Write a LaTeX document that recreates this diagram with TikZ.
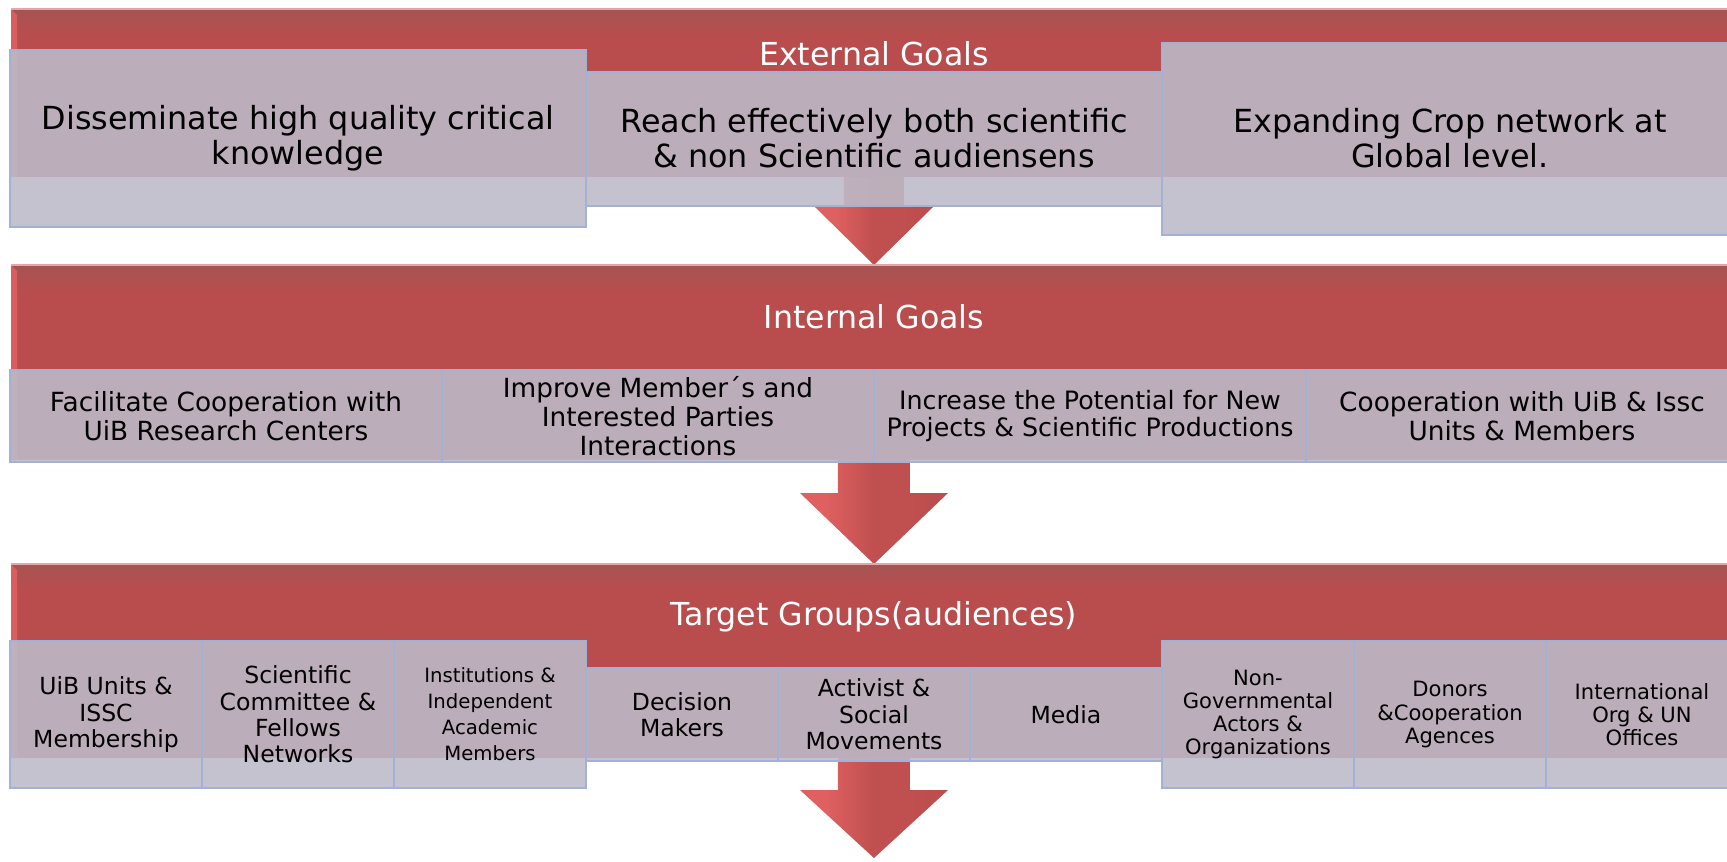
\documentclass[tikz,border=0pt]{standalone}
\usepackage{fontspec}
\setmainfont{DejaVu Sans}
\usetikzlibrary{positioning,calc}
\definecolor{gbred}{HTML}{B94D4D}
\definecolor{gbredtop}{HTML}{A65454}
\definecolor{gbredlight}{HTML}{DA5E5E}
\definecolor{gbredrim}{HTML}{E4A6A6}
\definecolor{gbbox}{HTML}{BCBBC8}
\definecolor{gbline}{HTML}{A3B2D4}
\definecolor{gbarrowlight}{HTML}{DE6060}
\definecolor{gbarrowmid}{HTML}{C04F4F}
\definecolor{gbarrowdark}{HTML}{B04B4B}
\pgfdeclarehorizontalshading{gbflowshade}{100bp}{color(0bp)=(gbarrowlight); color(34bp)=(gbarrowlight); color(50bp)=(gbarrowmid); color(62bp)=(gbarrowmid); color(100bp)=(gbarrowdark)}
\pgfdeclarelayer{arrows}
\pgfsetlayers{arrows,main}

\begin{document}
\begin{tikzpicture}[x=0.1mm,y=-0.1mm]
        \tikzset{band/.style={fill=gbred,anchor=north west,inner sep=0pt,outer sep=0pt,minimum width=180mm},
          bandtitle/.style={text=white,inner sep=0pt,font=\fontsize{9}{10}\selectfont},
          goal/.style={draw=gbline,line width=0.2mm,fill=gbbox,fill opacity=0.89,text opacity=1,align=center,inner sep=0pt,outer sep=0pt},
          extgoal/.style={goal,minimum width=57.6mm,font=\fontsize{9.05}{9.96}\selectfont},
          intgoal/.style={goal,minimum width=43.2mm,minimum height=9.2mm,font=\fontsize{7.5}{8.25}\selectfont},
          target/.style={goal,minimum width=19.2mm,font=\fontsize{6.7}{7.5}\selectfont},
          tgtall/.style={minimum height=14.7mm},
          tgshort/.style={minimum height=9.3mm},
          tgsmall/.style={font=\fontsize{6}{6.6}\selectfont},
          flow/.style={shading=gbflowshade}}
        \path[use as bounding box,clip] (0,0) rectangle (1727,861);
        % red bands
        \node[band,minimum height=16.8mm] (extBand) at (11,9) {};
        \node[band,minimum height=19.5mm] (intBand) at (11,265) {};
        \node[band,minimum height=19.4mm] (tgtBand) at (11,564) {};
        \foreach \b in {extBand,intBand,tgtBand}{
          \shade[top color=gbredtop,bottom color=gbred] (\b.north west) rectangle ($(\b.north east)+(0,26)$);
          \fill[gbredlight] (\b.north west) -- ++(6,6) -- ($(\b.south west)+(6,0)$) -- (\b.south west) -- cycle;
          \draw[gbredrim,line width=0.15mm] (\b.north west) -- (\b.north east);
        }
        \node[bandtitle] (extTitle) at (874,54) {External Goals};
        \node[bandtitle] (intTitle) at (874,317) {Internal Goals};
        \node[bandtitle] (tgtTitle) at (874,617) {Target Groups(audiences)};
        % external goals
        \node[extgoal,minimum height=17.7mm,anchor=west] (dissem) at (10,138.5) {Disseminate high quality critical\\knowledge};
        \node[extgoal,minimum height=13.4mm,right=0pt of dissem] (reach) {Reach effectively both scientific\\\& non Scientific audiensens};
        \node[extgoal,minimum height=19.2mm,right=0pt of reach] (expand) {Expanding Crop network at\\Global level.};
        % internal goals
        \node[intgoal,anchor=west] (facil) at (10,416) {Facilitate Cooperation with\\UiB Research Centers};
        \node[intgoal,right=0pt of facil] (improve) {Improve Member´s and\\Interested Parties\\Interactions};
        \node[intgoal,right=0pt of improve,font=\fontsize{7.2}{7.9}\selectfont] (increase) {Increase the Potential for New\\Projects \& Scientific Productions};
        \node[intgoal,right=0pt of increase] (coop) {Cooperation with UiB \& Issc\\Units \& Members};
        % target groups
        \node[target,tgtall,anchor=west] (uib) at (10,714.5) {UiB Units \&\\ISSC\\Membership};
        \node[target,tgtall,right=0pt of uib] (sci) {Scientific\\Committee \&\\Fellows\\Networks};
        \node[target,tgtall,right=0pt of sci,font=\fontsize{5.6}{7.4}\selectfont] (inst) {Institutions \&\\Independent\\Academic\\Members};
        \node[target,tgshort,right=0pt of inst] (decision) {Decision\\Makers};
        \node[target,tgshort,right=0pt of decision] (activist) {Activist \&\\Social\\Movements};
        \node[target,tgshort,right=0pt of activist] (media) {Media};
        \node[target,tgtall,tgsmall,right=0pt of media] (ngo) {Non-\\Governmental\\Actors \&\\Organizations};
        \node[target,tgtall,tgsmall,right=0pt of ngo] (donors) {Donors\\\&Cooperation\\Agences};
        \node[target,tgtall,tgsmall,right=0pt of donors] (intl) {International\\Org \& UN\\Offices};
        % block arrows behind the boxes
        \begin{pgfonlayer}{arrows}
          \coordinate (tipA) at (reach.south |- intBand.north);
          \coordinate (tipB) at (improve.south east |- tgtBand.north);
          \coordinate (tipC) at ($(activist.south)+(0,97)$);
          \shade[flow] ($(reach.center)+(-30,0)$) |- ($(tipA)+(-59,-58)$) -- (tipA) -- ($(tipA)+(59,-58)$) -| ($(reach.center)+(30,0)$) -- cycle;
          \shade[flow] ($(improve.south east)+(-36,-30)$) |- ($(tipB)+(-74,-71)$) -- (tipB) -- ($(tipB)+(74,-71)$) -| ($(improve.south east)+(36,-30)$) -- cycle;
          \shade[flow] ($(activist.center)+(-36,0)$) |- ($(tipC)+(-74,-68)$) -- (tipC) -- ($(tipC)+(74,-68)$) -| ($(activist.center)+(36,0)$) -- cycle;
        \end{pgfonlayer}
      \end{tikzpicture}
\end{document}
